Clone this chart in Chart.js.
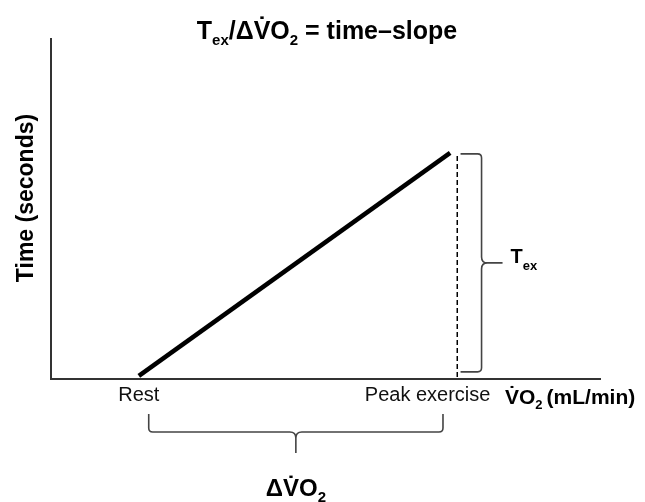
<!DOCTYPE html>
<html>
<head>
<meta charset="utf-8">
<script src="https://cdn.jsdelivr.net/npm/chart.js@4.4.1/dist/chart.umd.min.js"></script>
<style>
html,body{margin:0;padding:0;background:#fff;}
#wrap{width:645px;height:502px;position:relative;}
</style>
</head>
<body>
<div id="wrap"><canvas id="c" width="645" height="502"></canvas></div>
<script>
// ---- data (schematic units, x and y both 0..100) ----
const xTickValues = [16, 68.6];
const xTickLabels = ['Rest', 'Peak exercise'];
const slopeX = [16, 72.7];
const slopeY = [0.9, 66.5];
const peakLineX = [74, 74];
const peakLineY = [0.6, 66.5];
const texBraceY = [66.2, 2.1];       // top, bottom of right brace
const texBraceX = 74.6;
const dvo2BraceX = [17.8, 71.4];     // left, right of bottom brace

const FONT = '"Liberation Sans", Arial, Helvetica, sans-serif';
const DOT_V = 'V\u0307';

function toPts(xs, ys){ return xs.map((x,i)=>({x:x, y:ys[i]})); }

function runWidth(ctx, parts){
  let w = 0;
  parts.forEach(p=>{ ctx.font = (p.bold?'bold ':'') + p.size + 'px ' + FONT; w += ctx.measureText(p.t).width + (p.gap||0); });
  return w;
}
function drawRun(ctx, parts, x, y){
  ctx.textAlign = 'left'; ctx.textBaseline = 'alphabetic';
  parts.forEach(p=>{
    ctx.font = (p.bold?'bold ':'') + p.size + 'px ' + FONT;
    ctx.fillText(p.t, x, y + (p.dy||0));
    x += ctx.measureText(p.t).width + (p.gap||0);
  });
  return x;
}

const annotations = {
  id: 'annotations',
  afterDraw(chart){
    const ctx = chart.ctx;
    const xs = chart.scales.x, ys = chart.scales.y;
    ctx.save();
    ctx.fillStyle = '#000';

    // title
    const title = [
      {t:'T', size:25, bold:true},
      {t:'ex', size:15, bold:true, dy:6},
      {t:'/\u0394' + DOT_V + 'O', size:25, bold:true},
      {t:'2', size:15, bold:true, dy:6},
      {t:' = time\u2013slope', size:25, bold:true}
    ];
    const tw = runWidth(ctx, title);
    drawRun(ctx, title, 327 - tw/2, 39);

    // y axis title
    ctx.save();
    ctx.translate(27, 198);
    ctx.rotate(-Math.PI/2);
    ctx.font = 'bold 23px ' + FONT;
    ctx.textAlign = 'center'; ctx.textBaseline = 'middle';
    ctx.fillText('Time (seconds)', 0, 0);
    ctx.restore();

    // x unit label
    drawRun(ctx, [
      {t:DOT_V + 'O', size:21, bold:true},
      {t:'2', size:13, bold:true, dy:5, gap:4},
      {t:'(mL/min)', size:21, bold:true}
    ], 505, 404);

    // right brace (T_ex)
    ctx.strokeStyle = '#444';
    ctx.lineWidth = 1.6;
    const bx = xs.getPixelForValue(texBraceX);
    const yt = ys.getPixelForValue(texBraceY[0]);
    const yb = ys.getPixelForValue(texBraceY[1]);
    const ym = (yt + yb) / 2;
    const vx = bx + 21;
    ctx.beginPath();
    ctx.moveTo(bx, yt);
    ctx.lineTo(vx - 4, yt);
    ctx.quadraticCurveTo(vx, yt, vx, yt + 4);
    ctx.lineTo(vx, ym - 6);
    ctx.quadraticCurveTo(vx, ym, vx + 6, ym);
    ctx.quadraticCurveTo(vx, ym, vx, ym + 6);
    ctx.lineTo(vx, yb - 4);
    ctx.quadraticCurveTo(vx, yb, vx - 4, yb);
    ctx.lineTo(bx, yb);
    ctx.moveTo(vx + 6, ym);
    ctx.lineTo(vx + 21, ym);
    ctx.stroke();
    drawRun(ctx, [
      {t:'T', size:20, bold:true},
      {t:'ex', size:13, bold:true, dy:7}
    ], vx + 29, ym + 0);

    // bottom brace (delta VO2)
    const lx = xs.getPixelForValue(dvo2BraceX[0]);
    const rx = xs.getPixelForValue(dvo2BraceX[1]);
    const mx = (lx + rx) / 2;
    const top = 414, hy = 432;
    ctx.beginPath();
    ctx.moveTo(lx, top);
    ctx.lineTo(lx, hy - 4);
    ctx.quadraticCurveTo(lx, hy, lx + 4, hy);
    ctx.lineTo(mx - 6, hy);
    ctx.quadraticCurveTo(mx, hy, mx, hy + 6);
    ctx.quadraticCurveTo(mx, hy, mx + 6, hy);
    ctx.lineTo(rx - 4, hy);
    ctx.quadraticCurveTo(rx, hy, rx, hy - 4);
    ctx.lineTo(rx, top);
    ctx.moveTo(mx, hy + 6);
    ctx.lineTo(mx, 453);
    ctx.stroke();
    const dl = [
      {t:'\u0394' + DOT_V + 'O', size:24, bold:true},
      {t:'2', size:15, bold:true, dy:6}
    ];
    const dw = runWidth(ctx, dl);
    drawRun(ctx, dl, mx - dw/2, 496);

    ctx.restore();
  }
};

new Chart(document.getElementById('c'), {
  type: 'line',
  data: {
    datasets: [
      {
        data: toPts(slopeX, slopeY),
        borderColor: '#000', borderWidth: 4.5, pointRadius: 0, borderCapStyle: 'butt'
      },
      {
        data: toPts(peakLineX, peakLineY),
        borderColor: '#000', borderWidth: 1.5, borderDash: [5, 3], pointRadius: 0
      }
    ]
  },
  options: {
    responsive: false,
    animation: false,
    layout: { padding: { left: 51, right: 45, top: 39, bottom: 91 } },
    plugins: { legend: { display: false }, tooltip: { enabled: false } },
    scales: {
      x: {
        type: 'linear', min: 0, max: 100,
        grid: { display: false, drawTicks: false },
        border: { display: true, color: '#333', width: 2 },
        afterBuildTicks: s => { s.ticks = xTickValues.map(v => ({ value: v })); },
        ticks: {
          autoSkip: false, maxRotation: 0, padding: 4,
          color: '#111', font: { family: FONT, size: 20 },
          callback: (v) => { const i = xTickValues.indexOf(v); return i >= 0 ? xTickLabels[i] : ''; }
        }
      },
      y: {
        type: 'linear', min: 0, max: 100,
        grid: { display: false, drawTicks: false },
        border: { display: true, color: '#333', width: 2 },
        ticks: { display: false }
      }
    }
  },
  plugins: [annotations]
});
</script>
</body>
</html>
